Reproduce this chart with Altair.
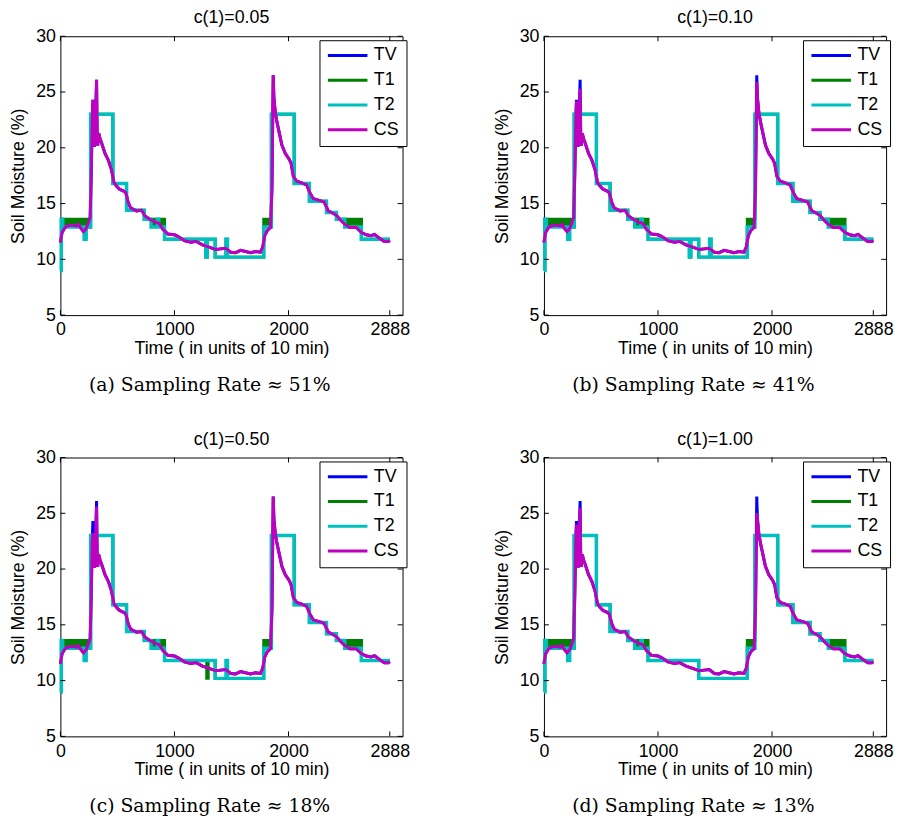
import altair as alt
import pandas as pd

# ---------------- data ----------------
# True value (TV) curve knots: time (units of 10 min) and soil moisture (%)
TV_T = [0, 14, 43, 87, 145, 159, 174, 203, 226, 246, 261, 270, 279, 285, 292, 299, 308, 317, 322, 327,
        336, 348, 362, 391, 420, 449, 469, 490, 516, 559, 574, 594, 617, 667, 710, 719, 739, 783, 826,
        864, 899, 942, 1000, 1029, 1087, 1145, 1188, 1246, 1304, 1362, 1406, 1449, 1493, 1536, 1580,
        1623, 1667, 1710, 1754, 1774, 1791, 1812, 1832, 1843, 1855, 1866, 1872, 1884, 1899, 1922, 1942,
        1971, 2006, 2023, 2043, 2072, 2116, 2159, 2188, 2217, 2261, 2313, 2348, 2391, 2420, 2449, 2493,
        2536, 2594, 2638, 2681, 2725, 2754, 2797, 2841, 2875, 2888]
TV_V = [11.5, 12.4, 12.9, 13.07, 13.0, 13.15, 12.86, 12.48, 12.77, 13.3, 13.75, 17.5, 22.5, 24.3, 21.0,
        20.1, 22.5, 26.1, 21.5, 20.2, 21.3, 20.8, 20.4, 19.5, 18.9, 18.0, 16.9, 16.6, 16.3, 16.1, 15.96,
        15.1, 14.6, 14.34, 14.4, 14.3, 13.9, 13.6, 13.36, 13.24, 12.7, 12.27, 12.2, 12.06, 11.68, 11.53,
        11.62, 11.3, 11.09, 10.88, 10.94, 11.0, 10.64, 10.6, 10.8, 10.7, 10.6, 10.7, 10.64, 11.09, 12.1,
        12.56, 12.77, 12.86, 16.5, 26.5, 24.5, 23.2, 22.3, 21.2, 20.25, 19.5, 18.98, 18.6, 17.44, 17.0,
        16.85, 16.67, 15.96, 15.43, 15.31, 15.14, 14.34, 14.13, 13.95, 13.6, 13.15, 12.86, 12.86, 12.42,
        12.2, 12.12, 12.24, 11.89, 11.6, 11.6, 11.7]

# CS reconstruction: same as TV except at the three spikes
PEAK_T = [285, 317, 1866]
CS_PEAKS = {
    "a": [24.3, 26.1, 26.5],
    "b": [24.2, 25.3, 25.9],
    "c": [23.2, 25.6, 26.5],
    "d": [24.0, 25.5, 25.0],
}

# T2 (step signal): start times and levels
T2_HEAD_T = [0, 8, 20, 208, 226, 265, 460, 580, 735, 795, 850, 862]
T2_HEAD_V = [9.0, 13.6, 12.9, 11.8, 12.9, 23.0, 16.8, 14.4, 13.6, 12.9, 13.6, 12.9]
T2_MID = {
    "a": ([913, 1275, 1288, 1357, 1452, 1465], [11.8, 10.2, 11.8, 10.2, 11.8, 10.2]),
    "b": ([913, 1275, 1288, 1357, 1452, 1465], [11.8, 10.2, 11.8, 10.2, 11.8, 10.2]),
    "c": ([913, 1357, 1452, 1465], [11.8, 10.2, 11.8, 10.2]),
    "d": ([913, 1357], [11.8, 10.2]),
}
T2_TAIL_T = [1783, 1850, 2050, 2183, 2333, 2420, 2493, 2638, 2888]
T2_TAIL_V = [12.9, 23.0, 16.8, 15.2, 14.2, 13.6, 12.9, 11.8, 11.8]

# T1 (step signal)
T1_HEAD_T = [0, 8, 240, 265, 460, 580, 735]
T1_HEAD_V = [9.0, 13.6, 12.9, 23.0, 16.8, 14.4, 13.6]
T1_MID = {
    "a": ([913, 1275, 1288, 1357, 1452, 1465], [11.8, 10.2, 11.8, 10.2, 11.8, 10.2]),
    "b": ([913, 1275, 1288, 1357, 1452, 1465], [11.8, 10.2, 11.8, 10.2, 11.8, 10.2]),
    "c": ([913, 1283, 1296, 1357], [11.8, 10.2, 11.8, 10.2]),
    "d": ([913, 1357], [11.8, 10.2]),
}
T1_TAIL_T = [1783, 1850, 2050, 2183, 2333, 2420, 2640, 2888]
T1_TAIL_V = [13.6, 23.0, 16.8, 15.2, 14.2, 13.6, 11.8, 11.8]

# intervals where T1 toggles rapidly between two levels
BAND_START = [15, 797, 1785, 2493]
BAND_END = [240, 913, 1848, 2640]
BAND_LOW = [12.9, 12.9, 12.9, 12.9]
BAND_HIGH = [13.6, 13.6, 13.6, 13.6]

SERIES = ["TV", "T1", "T2", "CS"]
COLORS = ["#0000ff", "#008000", "#00bfbf", "#bf00bf"]

PANELS = ["a", "b", "c", "d"]
TITLES = ["c(1)=0.05", "c(1)=0.10", "c(1)=0.50", "c(1)=1.00"]
CAPTIONS = ["(a)  Sampling Rate \u2248 51%", "(b)  Sampling Rate \u2248 41%",
            "(c)  Sampling Rate \u2248 18%", "(d)  Sampling Rate \u2248 13%"]

X_TICKS = [0, 1000, 2000, 2888]
Y_TICKS = [5, 10, 15, 20, 25, 30]

# ---------------- chart ----------------
W, H = 346, 282
FONT = "Liberation Sans"

color_scale = alt.Scale(domain=SERIES, range=COLORS)
legend = alt.Legend(orient="none", legendX=W - 84, legendY=4, title=None,
                    strokeColor="black", fillColor="white", padding=7,
                    symbolType="stroke", symbolSize=1600, symbolStrokeWidth=3,
                    clipHeight=17,
                    labelFont=FONT, labelFontSize=18, labelColor="black",
                    labelOffset=5, rowPadding=6)

x_enc = alt.X("t:Q", scale=alt.Scale(domain=[0, 3000], nice=False, zero=False),
              axis=alt.Axis(values=X_TICKS, format="d", title="Time ( in units of 10 min)", labelFlush=False,
                            labelOverlap=False, labelPadding=6, titlePadding=1))
y_enc = alt.Y("v:Q", scale=alt.Scale(domain=[5, 30], nice=False, zero=False),
              axis=alt.Axis(values=Y_TICKS, title="Soil Moisture (%)", labelFlush=False,
                            labelOverlap=False, labelPadding=5, titlePadding=8))


def series_df(ts, vs, name):
    return pd.DataFrame({"t": ts, "v": vs, "s": name})


def panel(key, title, caption):
    cs_v = list(TV_V)
    for pt, pv in zip(PEAK_T, CS_PEAKS[key]):
        cs_v[TV_T.index(pt)] = pv
    t2_t = T2_HEAD_T + T2_MID[key][0] + T2_TAIL_T
    t2_v = T2_HEAD_V + T2_MID[key][1] + T2_TAIL_V
    t1_t = T1_HEAD_T + T1_MID[key][0] + T1_TAIL_T
    t1_v = T1_HEAD_V + T1_MID[key][1] + T1_TAIL_V

    col = alt.Color("s:N", scale=color_scale, legend=legend)

    tv = alt.Chart(series_df(TV_T, TV_V, "TV")).mark_line(strokeWidth=3).encode(x=x_enc, y=y_enc, color=col)
    t1 = alt.Chart(series_df(t1_t, t1_v, "T1")).mark_line(strokeWidth=3, interpolate="step-after").encode(
        x=x_enc, y=y_enc, color=col)
    band = alt.Chart(pd.DataFrame({"t": BAND_START, "t2": BAND_END, "v": BAND_LOW, "v2": BAND_HIGH})).mark_rect(
        color="#008000").encode(x=x_enc, x2="t2:Q", y=y_enc, y2="v2:Q")
    t2 = alt.Chart(series_df(t2_t, t2_v, "T2")).mark_line(strokeWidth=3.5, interpolate="step-after").encode(
        x=x_enc, y=y_enc, color=col)
    cs = alt.Chart(series_df(TV_T, cs_v, "CS")).mark_line(strokeWidth=3).encode(x=x_enc, y=y_enc, color=col)

    ydf = pd.DataFrame({"v": Y_TICKS})
    xdf = pd.DataFrame({"t": X_TICKS})
    tk_l = alt.Chart(ydf).mark_rule(color="black", strokeWidth=1).encode(y=y_enc, x=alt.value(0), x2=alt.value(5))
    tk_r = alt.Chart(ydf).mark_rule(color="black", strokeWidth=1).encode(y=y_enc, x=alt.value(W - 5), x2=alt.value(W))
    tk_b = alt.Chart(xdf).mark_rule(color="black", strokeWidth=1).encode(x=x_enc, y=alt.value(H - 5), y2=alt.value(H))
    tk_t = alt.Chart(xdf).mark_rule(color="black", strokeWidth=1).encode(x=x_enc, y=alt.value(0), y2=alt.value(5))

    layer = alt.layer(tv, t1, band, t2, cs, tk_l, tk_r, tk_b, tk_t).properties(
        width=W, height=H,
        title=alt.TitleParams(title, font=FONT, fontSize=18, fontWeight="normal", color="black", offset=0))

    return alt.vconcat(layer, title=alt.TitleParams(
        caption, orient="bottom", anchor="middle", font="DejaVu Serif", fontSize=19, fontWeight="normal",
        color="black", offset=18)).resolve_legend(color="independent").resolve_scale(color="independent")


panels = [panel(k, t, c) for k, t, c in zip(PANELS, TITLES, CAPTIONS)]

row1 = alt.hconcat(panels[0], panels[1], spacing=83).resolve_legend(color="independent").resolve_scale(color="independent")
row2 = alt.hconcat(panels[2], panels[3], spacing=83).resolve_legend(color="independent").resolve_scale(color="independent")

chart = alt.vconcat(row1, row2, spacing=35).resolve_legend(color="independent").resolve_scale(
    color="independent").properties(
    padding={"left": 1, "top": -4, "right": 0, "bottom": 0}, background="white").configure_view(
    stroke="black", strokeWidth=1).configure_axis(
    domain=False, ticks=False, tickSize=0, grid=False, labelFont=FONT, labelFontSize=18, labelColor="black",
    titleFont=FONT, titleFontSize=18, titleFontWeight="normal", titleColor="black")

chart.save("out.html", embed_options={"renderer": "svg", "actions": False})
